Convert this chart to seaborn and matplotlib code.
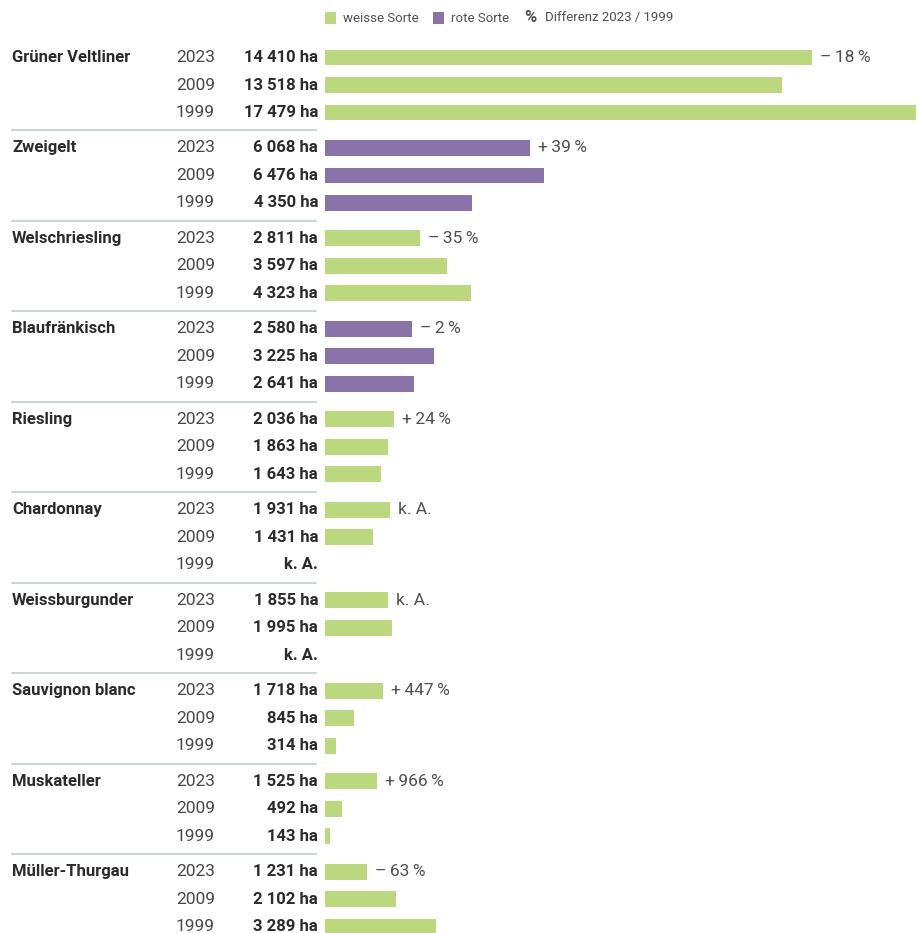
import matplotlib
matplotlib.use("Agg")
import numpy as np
import pandas as pd
import matplotlib.pyplot as plt
from matplotlib.transforms import blended_transform_factory
from matplotlib.patches import Rectangle
from matplotlib.lines import Line2D
import seaborn as sns

# Rebflächen der wichtigsten Sorten in Österreich (ha)
varieties = ["Grüner Veltliner", "Zweigelt", "Welschriesling", "Blaufränkisch", "Riesling",
             "Chardonnay", "Weissburgunder", "Sauvignon blanc", "Muskateller", "Müller-Thurgau"]
variety_type = ["weiss", "rot", "weiss", "rot", "weiss",
                "weiss", "weiss", "weiss", "weiss", "weiss"]
years = ["2023", "2009", "1999"]
ha_2023 = [14410, 6068, 2811, 2580, 2036, 1931, 1855, 1718, 1525, 1231]
ha_2009 = [13518, 6476, 3597, 3225, 1863, 1431, 1995, 845, 492, 2102]
ha_1999 = [17479, 4350, 4323, 2641, 1643, np.nan, np.nan, 314, 143, 3289]
legend_labels = ["weisse Sorte", "rote Sorte", "Differenz 2023 / 1999"]

GREEN = "#bcd87f"
PURPLE = "#8a73a9"
DARK = "#2b2b2b"
YEAR = "#484848"
GREY = "#505050"
RULE = "#c8d6d6"

W, H = 917, 933
ROW = 27.5          # pixel pitch of one bar row
TOP = 57.5          # pixel centre of the first row
GROUP_STEP = 3.29   # rows per variety block incl. gap

sns.set_theme(style="white")
plt.rcParams["font.family"] = ["Roboto", "DejaVu Sans"]

records = []
for g, name in enumerate(varieties):
    vals = [ha_2023[g], ha_2009[g], ha_1999[g]]
    for r, (yr, v) in enumerate(zip(years, vals)):
        records.append({"Sorte": name, "Jahr": yr, "ha": v, "Typ": variety_type[g],
                        "pos": g * GROUP_STEP + r})
df = pd.DataFrame(records)

fig = plt.figure(figsize=(W / 100, H / 100), dpi=100)
ax = fig.add_axes([325 / W, 0, 1 - 325 / W, 1])

sns.barplot(data=df.dropna(subset=["ha"]), x="ha", y="pos", hue="Typ",
            palette={"weiss": GREEN, "rot": PURPLE}, orient="y", native_scale=True,
            dodge=False, width=0.58, saturation=1, errorbar=None, legend=False,
            linewidth=0, ax=ax)

ax.set_xlim(0, 17479 * 592 / 591)
ax.set_ylim((H - TOP) / ROW, -TOP / ROW)
ax.set_axis_off()

tr = blended_transform_factory(fig.transFigure, ax.transData)


def fmt_ha(v):
    if pd.isna(v):
        return "k. A."
    return f"{int(v):,}".replace(",", " ") + " ha"


for g, name in enumerate(varieties):
    base = g * GROUP_STEP
    ax.text(12 / W, base, name, transform=tr, ha="left", va="center",
            fontsize=12, fontweight="bold", color=DARK, clip_on=False)
    sub = df[df["Sorte"] == name]
    for _, row in sub.iterrows():
        ax.text(176 / W, row["pos"], row["Jahr"], transform=tr, ha="left", va="center",
                fontsize=12.5, fontweight="normal", color=YEAR, clip_on=False)
        ax.annotate(fmt_ha(row["ha"]), xy=(0, row["pos"]), xytext=(-7, 0),
                    textcoords="offset pixels", ha="right", va="center",
                    fontsize=12, fontweight="bold", color=DARK, annotation_clip=False)
    # Veränderung 2023 gegenüber 1999
    v23, v99 = ha_2023[g], ha_1999[g]
    if pd.isna(v99):
        diff = "k. A."
    else:
        pct = round((v23 / v99 - 1) * 100)
        sign = "–" if pct < 0 else "+"
        diff = f"{sign}\u2009{abs(pct)}\u2009%"
    ax.annotate(diff, xy=(v23, base), xytext=(8, 0), textcoords="offset pixels",
                ha="left", va="center", fontsize=12.5, fontweight="normal", color=GREY,
                annotation_clip=False)
    if g < len(varieties) - 1:
        ysep = base + 2 + (GROUP_STEP - 2) / 2
        ax.add_line(Line2D([12 / W, 316 / W], [ysep, ysep], transform=tr,
                           color=RULE, lw=1.5, clip_on=False))

# Legende
ly = 1 - 18 / H
for x0, col, lab in [(325, GREEN, legend_labels[0]), (433, PURPLE, legend_labels[1])]:
    fig.add_artist(Rectangle((x0 / W, 1 - 23.5 / H), 11 / W, 11 / H,
                             transform=fig.transFigure, color=col, lw=0))
    fig.text((x0 + 18) / W, ly, lab, ha="left", va="center", fontsize=9.5, color=GREY)
fig.text(524 / W, ly, "%", ha="left", va="center", fontsize=12, fontweight="bold", color=GREY)
fig.text(545 / W, ly, legend_labels[2], ha="left", va="center", fontsize=9.5, color=GREY)

fig.savefig("out.png", dpi=100)
